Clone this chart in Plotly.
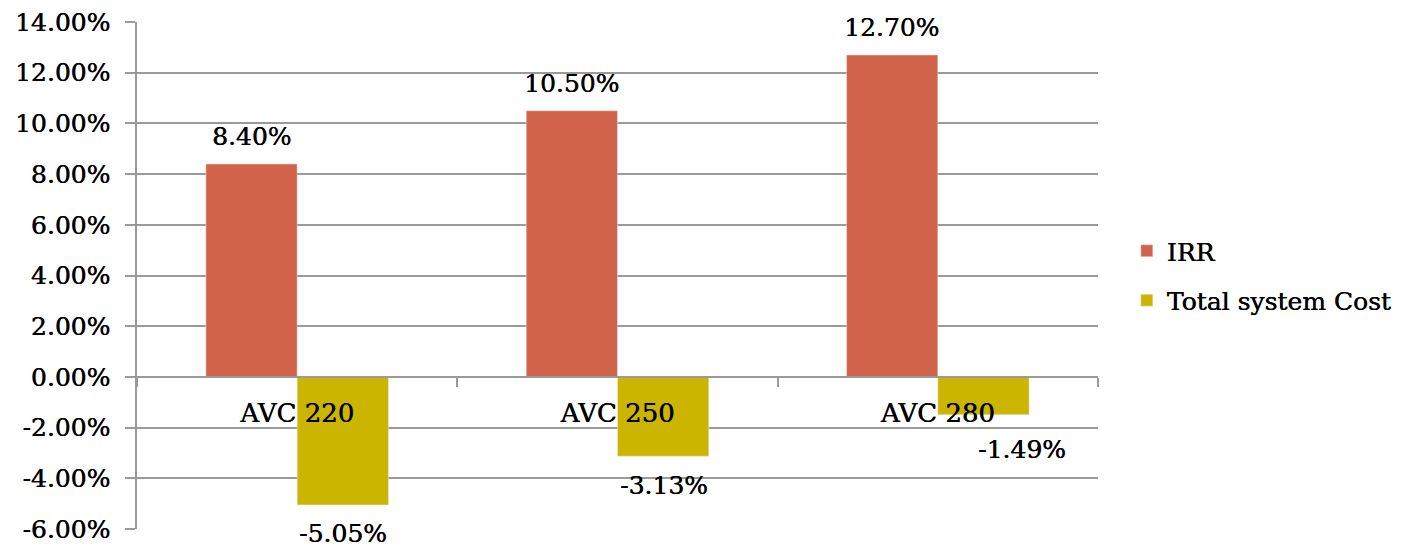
import plotly.graph_objects as go

categories = ["AVC 220", "AVC 250", "AVC 280"]
irr = [0.084, 0.105, 0.127]
system_cost = [-0.0505, -0.0313, -0.0149]
y_ticks = [-0.06, -0.04, -0.02, 0.0, 0.02, 0.04, 0.06, 0.08, 0.10, 0.12, 0.14]


def pct(v):
    # plain hyphen for negatives, two decimals
    return f"{v * 100:.2f}%".replace("−", "-")


FONT = "DejaVu Serif"
SHADOW = "0.45px 0 0 #000"
GRID = "#9a9a9a"
IRR_COLOR = "#D1644B"
COST_COLOR = "#CCB500"

# pixel offsets of the value labels from their bar ends
irr_label_shift = [(-46, 27), (-46, 27), (-46, 27)]
cost_label_shift = [(46, -29), (46, -29), (84, -35)]

fig = go.Figure()
fig.add_trace(go.Bar(name="IRR", x=categories, y=irr, marker_color=IRR_COLOR,
                     legendgroup="a"))
fig.add_trace(go.Bar(name="Total system Cost", x=categories, y=system_cost,
                     marker_color=COST_COLOR, legendgroup="b"))

label_font = dict(family=FONT, size=25, color="#000", shadow=SHADOW)

annotations = []
for c, v, (dx, dy) in zip(categories, irr, irr_label_shift):
    annotations.append(dict(x=c, y=v, xref="x", yref="y", text=pct(v),
                            showarrow=False, xshift=dx, yshift=dy,
                            font=label_font))
for c, v, (dx, dy) in zip(categories, system_cost, cost_label_shift):
    annotations.append(dict(x=c, y=v, xref="x", yref="y", text=pct(v),
                            showarrow=False, xshift=dx, yshift=dy,
                            font=label_font))

fig.update_layout(
    width=1402, height=544,
    margin=dict(l=137, r=304, t=22, b=15, autoexpand=False),
    paper_bgcolor="white", plot_bgcolor="white",
    barmode="group", bargap=0.43, bargroupgap=0,
    font=dict(family=FONT, color="#000"),
    annotations=annotations,
    legend=dict(x=1.03, xanchor="left", y=0.5, yanchor="middle",
                font=dict(family=FONT, size=25, shadow=SHADOW),
                tracegroupgap=14, traceorder="grouped"),
    xaxis=dict(anchor="free", position=0.3, showline=True, linecolor=GRID,
               linewidth=1.5, ticks="outside", tickson="boundaries",
               ticklen=9, tickcolor=GRID, tickwidth=1.5,
               ticklabelstandoff=13, automargin=False,
               tickfont=dict(family=FONT, size=26, color="#000", shadow=SHADOW),
               showgrid=False, zeroline=False),
    yaxis=dict(range=[-0.06, 0.14], tickvals=y_ticks,
               ticktext=[pct(v) for v in y_ticks], automargin=False,
               showline=True, linecolor=GRID, linewidth=1.5,
               ticks="outside", ticklen=10, tickcolor=GRID, tickwidth=1.5,
               showgrid=True, gridcolor=GRID, gridwidth=1.5,
               zeroline=False, ticklabelstandoff=10,
               tickfont=dict(family=FONT, size=25, color="#000", shadow=SHADOW)),
)

fig.write_html("out.html")
